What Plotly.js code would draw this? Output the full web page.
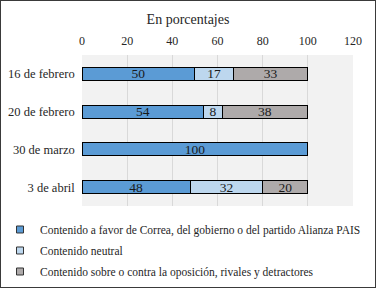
<!DOCTYPE html>
<html><head><meta charset="utf-8">
<script src="https://cdn.plot.ly/plotly-3.0.1.min.js"></script>
<style>
html,body{margin:0;padding:0;background:#fff;}
#wrap{width:374px;height:286px;border:1px solid #3a3a3a;position:relative;overflow:hidden;}
#chart{width:376px;height:288px;position:absolute;left:-1px;top:-1px;}
</style></head>
<body><div id="wrap"><div id="chart"></div></div>
<script>
const categories = ["16 de febrero","20 de febrero","30 de marzo","3 de abril"];
const aFavor = [50,54,100,48];
const neutral = [17,8,null,32];
const contra = [33,38,null,20];
const seriesNames = [
  "Contenido a favor de Correa, del gobierno o del partido Alianza PAIS",
  "Contenido neutral",
  "Contenido sobre o contra la oposición, rivales y detractores"
];
const colors = ["#5b9bd5","#bdd7ee","#aeaaaa"];
const values = [aFavor, neutral, contra];
const FONT = "Liberation Serif, serif";

const traces = values.map((v,i)=>({
  type:"bar", orientation:"h", y:categories, x:v, name:seriesNames[i],
  marker:{color:colors[i], line:{color:"#000", width:1}},
  text:v.map(d=>d==null?"":String(d)), textposition:"inside", insidetextanchor:"middle",
  textangle:0, constraintext:"none",
  textfont:{family:FONT, size:13.5, color:"#1a1a1a"},
  showlegend:false, hoverinfo:"skip"
}));
const legendTraces = seriesNames.map((n,i)=>({
  type:"scatter", mode:"markers", x:[0], y:[0], name:n, xaxis:"x2", yaxis:"y2",
  marker:{symbol:"square", size:7, color:colors[i], line:{color:"#333", width:1}},
  legendgroup:"g"+i, showlegend:true, hoverinfo:"skip"
}));

const layout = {
  width:376, height:288,
  margin:{l:82, r:23, t:55, b:82, autoexpand:false},
  paper_bgcolor:"#fff", plot_bgcolor:"#f2f2f2",
  font:{family:FONT, color:"#262626"},
  title:{text:"En porcentajes", font:{family:FONT, size:14, color:"#262626"}, x:0.5, xanchor:"center", y:0.935, yanchor:"middle", xref:"container"},
  barmode:"stack", bargap:0.655,
  xaxis:{side:"top", range:[0,120], dtick:20, tick0:0, showgrid:true, gridcolor:"#d9d9d9", gridwidth:1,
    zeroline:false, showline:false, ticks:"", ticklabelstandoff:7, tickfont:{family:FONT, size:12, color:"#262626"}, fixedrange:true, automargin:false},
  yaxis:{type:"category", autorange:"reversed", showgrid:false, zeroline:false, showline:false, ticks:"",
    tickfont:{family:FONT, size:12.5, color:"#262626"}, ticksuffix:"  ", fixedrange:true, automargin:false},
  xaxis2:{domain:[0,0.01], anchor:"y2", range:[10,11], visible:false, fixedrange:true},
  yaxis2:{domain:[0,0.01], anchor:"x2", range:[10,11], visible:false, fixedrange:true},
  legend:{orientation:"v", xref:"container", yref:"container", x:0, xanchor:"left", y:0.2535, yanchor:"top",
    font:{family:FONT, size:11.5, color:"#262626"}, traceorder:"grouped", tracegroupgap:2, bgcolor:"rgba(0,0,0,0)"},
  showlegend:true
};
Plotly.newPlot("chart", [...traces, ...legendTraces], layout, {displayModeBar:false, staticPlot:true});
</script></body></html>
